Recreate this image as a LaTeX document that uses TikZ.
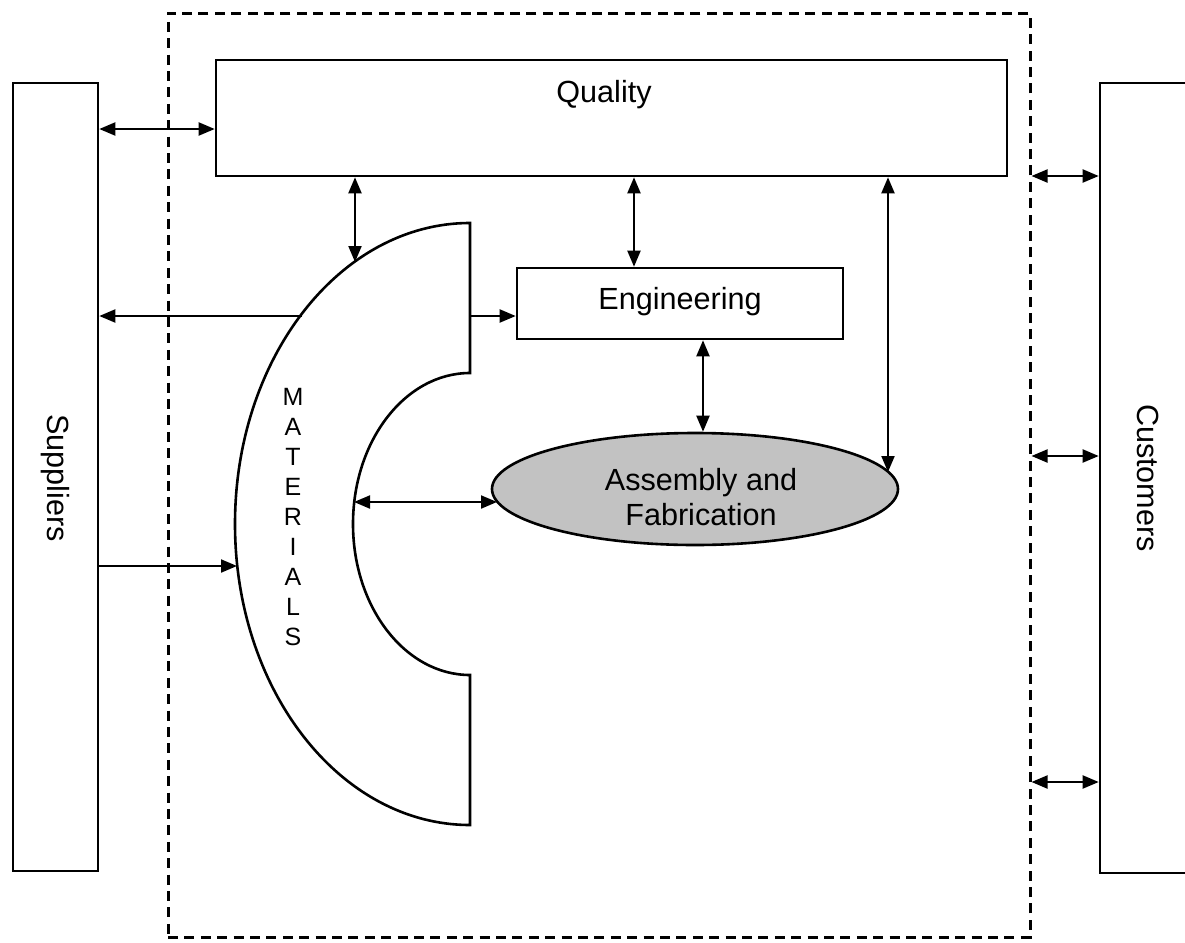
\documentclass[tikz,border=0pt]{standalone}
\usepackage{fontspec}
\setmainfont{Liberation Sans}
\usetikzlibrary{arrows.meta,shapes.geometric}

\tikzset{
  box/.style={draw, line width=1.3pt, inner sep=0pt, fill=white},
  lbl/.style={inner sep=0pt, font=\fontsize{15.3}{17.5}\selectfont},
  tip/.tip={Triangle[length=8pt,width=6.5pt]},
  link/.style={line width=1pt, -tip},
  both/.style={line width=1pt, tip-tip},
  frame/.style={draw, line width=1.5pt, dash pattern=on 5pt off 3.2pt, inner sep=0pt}
}

\begin{document}
\begin{tikzpicture}[x=0.5pt, y=-0.5pt]
  \useasboundingbox (0,0) rectangle (1185,943);

  % enterprise boundary
  \node[frame, minimum width=431pt, minimum height=462pt] (frame) at (599,475) {};

  % outside parties
  \node[box, minimum width=42.5pt, minimum height=394pt] (sup) at (55.5,477) {};
  \node[lbl, rotate=-90] (supt) at (55.5,478) {Suppliers};
  \node[box, minimum width=48pt, minimum height=395pt] (cust) at (1148,478) {};
  \node[lbl, rotate=-90] (custt) at (1148,478) {Customers};

  % functions
  \node[box, minimum width=395.5pt, minimum height=58pt] (qual) at (611.5,118) {};
  \node[lbl] (qualt) at (604,95) {Quality};
  \node[box, minimum width=163pt, minimum height=35.5pt] (eng) at (680,303.5) {};
  \node[lbl] (engt) at (680,302) {Engineering};
  \node[draw, ellipse, line width=1.3pt, fill=black!24, inner sep=0pt,
        minimum width=203pt, minimum height=56pt] (asm) at (695,489) {};
  \node[lbl, align=center] (asmt) at (701,497) {Assembly and\\Fabrication};

  % materials band (outer and inner elliptical arcs)
  \draw[line width=1.3pt, fill=white] (470,223)
      arc[start angle=-90, end angle=-270, x radius=235, y radius=301]
      -- (470,675)
      arc[start angle=90, end angle=270, x radius=117, y radius=151]
      -- cycle;
  \node[inner sep=0pt, align=center, font=\fontsize{12.5}{15}\selectfont] (matt) at (293,517)
      {M\\A\\T\\E\\R\\I\\A\\L\\S};

  % points on the materials band and the ellipse
  \coordinate (mq) at (355,262);
  \coordinate (ms1) at (302,316);
  \coordinate (me) at (470,316);
  \coordinate (ma) at (354,502);
  \coordinate (ms2) at (237,566);
  \coordinate (ar) at (888,472);
  \coordinate (al) at (497,502);

  % connectors
  \draw[both] (sup.east |- 0,129) -- (qual.west |- 0,129);
  \draw[both] (qual.south -| mq) -- (mq);
  \draw[both] (qual.south -| 634,0) -- (eng.north -| 634,0);
  \draw[both] (qual.south -| ar) -- (ar);
  \draw[both] (eng.south -| 703,0) -- (asm.north -| 703,0);
  \draw[link] (ms1) -- (sup.east |- ms1);
  \draw[link] (me) -- (eng.west |- me);
  \draw[link] (sup.east |- ms2) -- (ms2);
  \draw[both] (ma) -- (al);

  \draw[both] (frame.east |- 0,176) -- (cust.west |- 0,176);
  \draw[both] (frame.east |- 0,456) -- (cust.west |- 0,456);
  \draw[both] (frame.east |- 0,782) -- (cust.west |- 0,782);
\end{tikzpicture}
\end{document}
